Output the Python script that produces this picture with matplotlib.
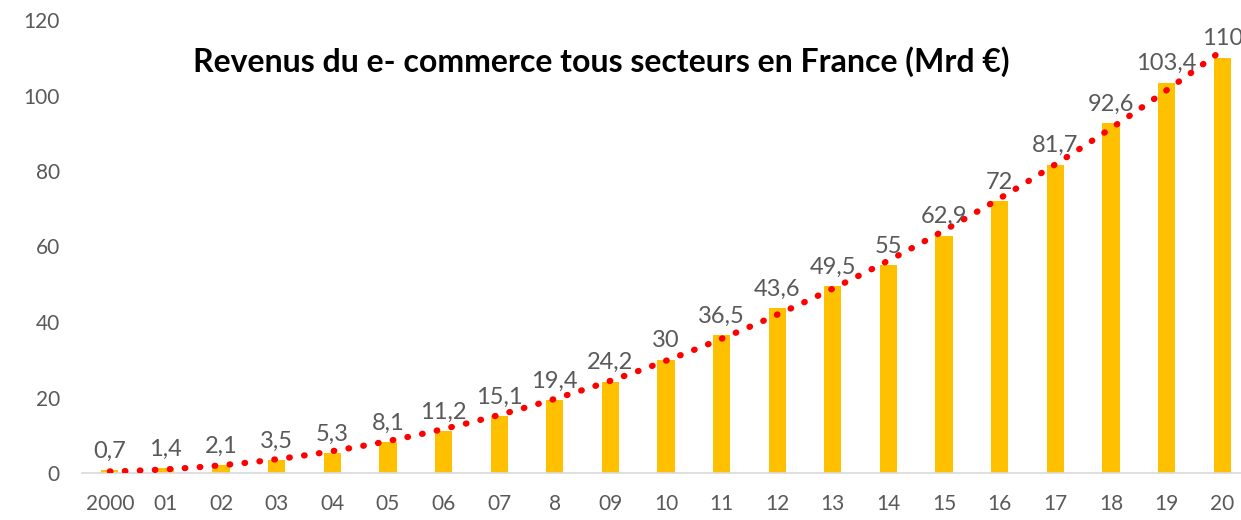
import numpy as np
import matplotlib.pyplot as plt

# Données : revenus du e-commerce en France (Mrd €)
years = ["2000", "01", "02", "03", "04", "05", "06", "07", "8", "09", "10",
         "11", "12", "13", "14", "15", "16", "17", "18", "19", "20"]
revenus = [0.7, 1.4, 2.1, 3.5, 5.3, 8.1, 11.2, 15.1, 19.4, 24.2, 30,
           36.5, 43.6, 49.5, 55, 62.9, 72, 81.7, 92.6, 103.4, 110]
labels = ["0,7", "1,4", "2,1", "3,5", "5,3", "8,1", "11,2", "15,1", "19,4", "24,2", "30",
          "36,5", "43,6", "49,5", "55", "62,9", "72", "81,7", "92,6", "103,4", "110"]

plt.rcParams["font.family"] = ["Lato", "DejaVu Sans"]

fig = plt.figure(figsize=(12.41, 5.2), dpi=100)
ax = fig.add_axes([82 / 1241, 47 / 520, 1168 / 1241, 453 / 520])

x = np.arange(len(years))
ax.bar(x, revenus, width=0.31, color="#FFC000", zorder=2)

# courbe de tendance polynomiale (ordre 2)
coef = np.polyfit(x, revenus, 2)
xs = np.linspace(0, 20, 200)
ax.plot(xs, np.polyval(coef, xs), color="#FF0000", linestyle=(0, (0.1, 2.3)),
        linewidth=4.5, dash_capstyle="round", zorder=3)

for xi, v, lab in zip(x, revenus, labels):
    ax.annotate(lab, (xi, v), xytext=(0, 6), textcoords="offset points",
                ha="center", va="bottom", fontsize=17, color="#595959")

ax.set_xlim(-0.5, 20.5)
ax.set_ylim(0, 120)
ax.set_yticks(range(0, 121, 20))
ax.set_xticks(x)
ax.set_xticklabels(years)
ax.tick_params(axis="both", length=0, labelsize=15, colors="#595959")
ax.tick_params(axis="x", pad=15)
ax.tick_params(axis="y", pad=16)
for s in ["top", "right", "left"]:
    ax.spines[s].set_visible(False)
ax.spines["bottom"].set_color("#D9D9D9")
ax.spines["bottom"].set_linewidth(1.2)

fig.text(601 / 1241, 1 - 62 / 520, "Revenus du e- commerce tous secteurs en France (Mrd €)",
         ha="center", va="center", fontsize=23, fontweight="bold", color="black")

plt.savefig("out.png", dpi=100)
